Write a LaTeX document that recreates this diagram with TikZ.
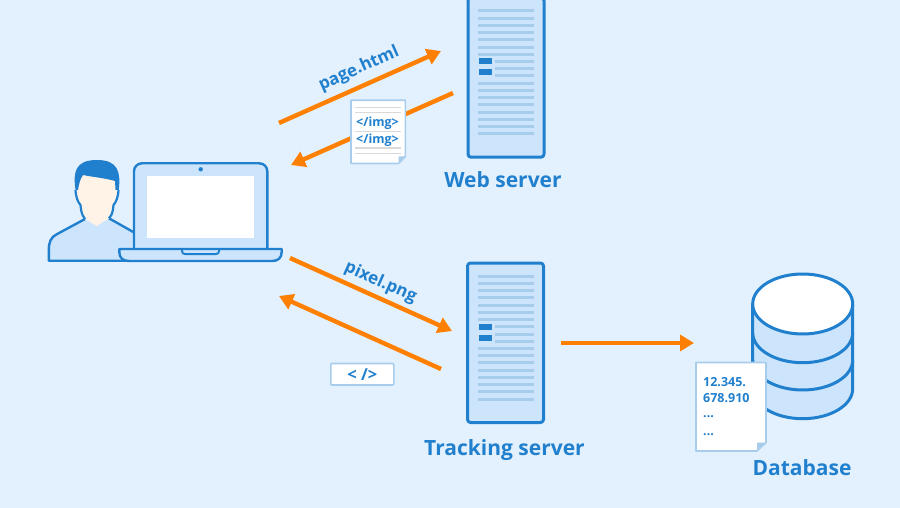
\documentclass[tikz,border=0pt]{standalone}
\usepackage{fontspec}
\setmainfont{Open Sans}
\usetikzlibrary{arrows.meta}
\definecolor{bgc}{HTML}{E3F1FE}
\definecolor{blu}{HTML}{2180CE}
\definecolor{lite}{HTML}{CCE5FD}
\definecolor{strp}{HTML}{A8CDEC}
\definecolor{org}{HTML}{FF8000}
\definecolor{skin}{HTML}{FFF3E8}
\definecolor{gry}{HTML}{D9D9D9}
\tikzset{
  x=1pt,y=-1pt,
  icon/.style={draw=blu,line width=2.4pt,line join=round,fill=lite},
  flow/.style={draw=org,line width=4.4pt,-{Triangle[length=14pt,width=16pt]}},
  flowtext/.style={text=blu,font=\bfseries\fontsize{17}{20}\selectfont,inner sep=0pt},
  caption/.style={text=blu,font=\bfseries\fontsize{21}{25}\selectfont,inner sep=0pt,anchor=base},
  doctext/.style={text=blu,font=\bfseries\fontsize{12.5}{15}\selectfont,inner sep=0pt},
  paper/.style={draw=strp,line width=1.6pt,line join=round,fill=white},
  fold/.style={fill=strp,draw=none},
  strip/.style={fill=strp,draw=none},
  tag/.style={fill=blu,draw=none},
  rule/.style={draw=gry,line width=1.5pt}
}
\newcommand{\myserver}[2]{%
  \begin{scope}[shift={(#1,#2)}]
    \draw[icon,line width=3pt,rounded corners=3pt] (0,0) rectangle (76,159.5);
    \foreach \k in {0,...,6,10,11,...,17}
      \fill[strip] (10,{13.3+7.22*\k-1.5}) rectangle (66,{13.3+7.22*\k+1.5});
    \foreach \k in {7,8,9}
      \fill[strip] (27,{13.3+7.22*\k-1.5}) rectangle (66,{13.3+7.22*\k+1.5});
    \fill[tag] (11,60.5) rectangle (24,66.5);
    \fill[tag] (11,71.5) rectangle (24,77.5);
  \end{scope}}
\begin{document}
\begin{tikzpicture}
\useasboundingbox (0,0) rectangle (900,508);
\clip (0,0) rectangle (900,508);
\fill[bgc] (0,0) rectangle (900,508);

% person
\fill[lite] (135,260.7) -- (48.8,260.7) -- (48.8,250)
  .. controls (48.8,242) and (51,237) .. (56.7,234.3)
  -- (85,219) -- (109,218.3) -- (135,233) -- cycle;
\draw[draw=blu,line width=2.4pt,line join=round] (135,260.7) -- (48.8,260.7) -- (48.8,250)
  .. controls (48.8,242) and (51,237) .. (56.7,234.3) -- (85,219);
\draw[draw=blu,line width=2.4pt] (109,218.3) -- (135,233);
\fill[skin] (85,219) -- (96.7,226) -- (109,218.3) -- (113,205) -- (118,190) -- (115,178) -- (82,172) -- (75,190) -- (80,205) -- cycle;
\draw[draw=blu,line width=2.2pt,line join=round] (85,219) .. controls (81,214) and (81,209) .. (80.5,205)
  .. controls (78,202) and (76,198) .. (75.5,190);
\draw[draw=blu,line width=2.2pt,line join=round] (109,218.3) .. controls (113,214) and (113,209) .. (113.5,205)
  .. controls (116,202) and (118,198) .. (118.5,190);
\fill[blu] (75.5,190) .. controls (73,172) and (75,160) .. (97,160)
  .. controls (118,160) and (121,172) .. (118.7,190)
  -- (115.5,190) -- (115,181) .. controls (105,178) and (92,177) .. (83,175)
  .. controls (80,179) and (79,184) .. (78,190) -- cycle;

% laptop
\fill[lite] (135.2,249) -- (135.2,170) -- (140,164.5) -- (261,164.5) -- (266,170) -- (266,249) -- cycle;
\draw[draw=blu,line width=2.4pt,rounded corners=8pt] (134,249) -- (134,163.3) -- (267.3,163.3) -- (267.3,249);
\fill[white] (146.7,176) rectangle (254.3,238.3);
\fill[blu] (200.7,169.3) circle (2.2);
\draw[icon] (119.3,249) -- (281.7,249) -- (281.7,252) .. controls (281.7,258) and (278,261) .. (272,261)
  -- (129,261) .. controls (123,261) and (119.3,258) .. (119.3,252) -- cycle;
\draw[draw=blu,line width=2pt,line join=round] (182,249.5) -- (182,251) .. controls (182,253) and (183,254) .. (185,254) -- (216,254) .. controls (218,254) and (219,253) .. (219,251) -- (219,249.5);

% servers
\myserver{468}{-2.3}
\myserver{467.5}{263}
\node[caption] (web) at (503,188) {Web server};
\node[caption] (track) at (504.5,455) {Tracking server};

% coordinates of arrows
\coordinate (a1) at (279,123);
\coordinate (a2) at (441,51);
\coordinate (b1) at (453,93);
\coordinate (b2) at (291,165);
\coordinate (c1) at (290,258);
\coordinate (c2) at (452,331);
\coordinate (d1) at (441,369);
\coordinate (d2) at (279,296);
\coordinate (e1) at (561,343);
\coordinate (e2) at (694,343);
\draw[flow] (a1) -- (a2);
\draw[flow] (b1) -- (b2);
\draw[flow] (c1) -- (c2);
\draw[flow] (d1) -- (d2);
\draw[flow] (e1) -- (e2);
\node[flowtext,rotate=24] (lblpage) at (359,69) {page.html};
\node[flowtext,rotate=-24] (lblpixel) at (380.5,282.5) {pixel.png};

% html document
\draw[paper] (351,100.3) -- (405.3,100.3) -- (405.3,156.5) -- (398.5,163.5) -- (351,163.5) -- cycle;
\fill[fold] (405.3,156.5) -- (398.5,156.5) -- (398.5,163.5) -- cycle;
\foreach \yy in {107.5,112.5,131.5,148,153.5}
  \draw[rule] (355,\yy) -- (401,\yy);
\node[doctext] (img1) at (377.5,123) {</img>};
\node[doctext] (img2) at (377.5,140.5) {</img>};

% code tag
\node[draw=strp,line width=1.6pt,fill=white,rounded corners=1pt,minimum width=63pt,minimum height=21.5pt,inner sep=0pt,text=blu,font=\bfseries\fontsize{16.5}{18}\selectfont] (code) at (362.3,374.2) {< />};

% database
\draw[icon,line width=3pt] (752.7,304) -- (752.7,388.7) arc[start angle=180,end angle=0,x radius=50,y radius=30] -- (852.7,304) -- cycle;
\draw[draw=blu,line width=3pt] (752.7,332.7) arc[start angle=180,end angle=0,x radius=50,y radius=30];
\draw[draw=blu,line width=3pt] (752.7,360) arc[start angle=180,end angle=0,x radius=50,y radius=30];
\draw[draw=blu,line width=3pt,fill=white] (802.7,304) ellipse[x radius=50,y radius=30];
\node[caption] (dblabel) at (802,475) {Database};

% data document
\draw[paper] (696,362.5) -- (766,362.5) -- (766,442.5) -- (757,451) -- (696,451) -- cycle;
\fill[fold] (766,442.5) -- (757,442.5) -- (757,451) -- cycle;
\node[doctext,anchor=west] (d1t) at (703,382) {12.345.};
\node[doctext,anchor=west] (d2t) at (703,398.5) {678.910};
\node[doctext,anchor=west] (d3t) at (703,417) {...};
\node[doctext,anchor=west] (d4t) at (703,435) {...};
\end{tikzpicture}
\end{document}
